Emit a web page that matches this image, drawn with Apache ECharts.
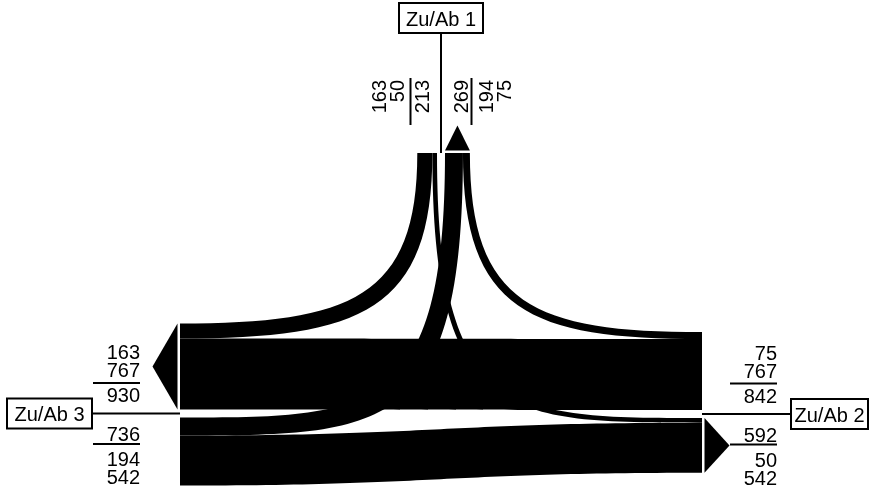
<!DOCTYPE html>
<html>
<head>
    <meta charset="utf-8">
    <title>Knotenstrom</title>
    <script src="https://cdn.jsdelivr.net/npm/echarts@6/dist/echarts.min.js"></script>
    <style>
        html, body { margin: 0; padding: 0; background: #fff; }
    </style>
</head>
<body>
    <div id="main" style="width: 870px;height:489px;"></div>
    <script type="text/javascript">
        // Knotenarme und Verkehrsströme (Fz)
        const armNames = ['Zu/Ab 1', 'Zu/Ab 2', 'Zu/Ab 3'];
        const fromArm = [1, 1, 2, 2, 3, 3];
        const toArm = [2, 3, 3, 1, 1, 2];
        const volume = [50, 163, 767, 75, 194, 542];

        // Reihenfolge der Ströme vom Achsstrich nach außen
        const inOrder = { 1: [2, 3], 2: [3, 1], 3: [1, 2] };
        const outOrder = { 1: [3, 2], 2: [1, 3], 3: [2, 1] };

        // Lage der Arme im Achsensystem
        const armEnd = { 1: [441, 153], 2: [702, 414], 3: [180, 413.5] };
        const armOut = { 1: [0, -1], 2: [1, 0], 3: [-1, 0] };
        const armInSide = { 1: [-1, 0], 2: [0, -1], 3: [0, 1] };
        const armLine = { 1: 120, 2: 89, 3: 88 };
        const armBox = { 1: [135, 84], 2: [127.5, 77], 3: [130.5, 85] };
        const armLabel = {
            1: { at: 73, from: 28, to: 75 },
            2: { at: 75, from: 28, to: 75 },
            3: { at: 40, from: 40, to: 87 }
        };

        const UNIT = 0.0925;   // Breite je Fahrzeug
        const GAP = 4;
        const FONT = 'Liberation Sans, Arial, sans-serif';

        function vol(a, b) {
            for (let i = 0; i < volume.length; i++) {
                if (fromArm[i] === a && toArm[i] === b) return volume[i];
            }
            return 0;
        }
        const add = (p, d, k) => [p[0] + d[0] * k, p[1] + d[1] * k];
        const neg = (d) => [-d[0], -d[1]];

        // Anschlussstellen der Bänder an den Armen
        const slots = {};
        [1, 2, 3].forEach(function (a) {
            let off = GAP;
            inOrder[a].forEach(function (b) {
                const w = vol(a, b) * UNIT;
                const key = a + '-' + b;
                slots[key] = slots[key] || {};
                slots[key].start = [add(armEnd[a], armInSide[a], off), add(armEnd[a], armInSide[a], off + w)];
                off += w;
            });
            off = GAP;
            const side = neg(armInSide[a]);
            outOrder[a].forEach(function (o) {
                const w = vol(o, a) * UNIT;
                const key = o + '-' + a;
                slots[key] = slots[key] || {};
                slots[key].end = [add(armEnd[a], side, off), add(armEnd[a], side, off + w)];
                off += w;
            });
        });

        function edge(P0, P3, d0, d3) {
            const dx = P3[0] - P0[0], dy = P3[1] - P0[1];
            const straight = (d0[0] * d3[0] + d0[1] * d3[1]) > 0.5;
            // Rechtsabbieger etwas runder als Linksabbieger
            const rightTurn = (d0[0] * d3[1] - d0[1] * d3[0]) > 0;
            const len = function (d) {
                if (straight) return 0.5 * Math.abs(dx * d[0] + dy * d[1]);
                if (d[0] !== 0) return 0.72 * Math.abs(dx);
                return (rightTurn ? 0.85 : 1) * Math.abs(dy);
            };
            return [P0, add(P0, d0, len(d0)), add(P3, d3, -len(d3)), P3];
        }

        function renderItem(params, api) {
            const c = (p) => api.coord(p);
            const children = [];

            // Bänder
            for (let i = 0; i < volume.length; i++) {
                const a = fromArm[i], b = toArm[i];
                const s = slots[a + '-' + b];
                const d0 = neg(armOut[a]), d3 = armOut[b];
                const e1 = edge(s.start[0], s.end[0], d0, d3).map(c);
                const e2 = edge(s.start[1], s.end[1], d0, d3).map(c);
                const path = 'M' + e1[0] + 'C' + e1[1] + ' ' + e1[2] + ' ' + e1[3] +
                    'L' + e2[3] + 'C' + e2[2] + ' ' + e2[1] + ' ' + e2[0] + 'Z';
                children.push({ type: 'path', shape: { pathData: path }, style: { fill: '#000' } });
            }

            [1, 2, 3].forEach(function (a) {
                const end = armEnd[a], out = armOut[a], inSide = armInSide[a];
                const outSide = neg(inSide);
                const ins = inOrder[a].map(function (b) { return vol(a, b); });
                const outs = outOrder[a].map(function (o) { return vol(o, a); });
                const inSum = ins.reduce((x, y) => x + y, 0);
                const outSum = outs.reduce((x, y) => x + y, 0);

                // Pfeil für abfließenden Verkehr
                const p1 = add(end, outSide, GAP), p2 = add(end, outSide, GAP + outSum * UNIT);
                const mid = [(p1[0] + p2[0]) / 2, (p1[1] + p2[1]) / 2];
                children.push({
                    type: 'polygon',
                    shape: { points: [add(p1, out, 2.5), add(p2, out, 2.5), add(mid, out, 27.5)].map(c) },
                    style: { fill: '#000' }
                });

                // Achsstrich
                const l1 = c(end), l2 = c(add(end, out, armLine[a]));
                children.push({
                    type: 'line',
                    shape: { x1: l1[0], y1: l1[1], x2: l2[0], y2: l2[1] },
                    style: { stroke: '#000', lineWidth: 2 }
                });

                // Beschriftung
                const cfg = armLabel[a];
                const rot = a === 1 ? Math.PI / 2 : 0;
                const nudge = a === 1 ? [2, 0] : [0, 2.5];
                [[inSide, ins, inSum], [outSide, outs, outSum]].forEach(function (blk) {
                    const side = blk[0];
                    const texts = [[19.5, blk[2]]];
                    blk[1].forEach(function (v, k) { texts.push([44.5 + 18 * k, v]); });
                    texts.forEach(function (t) {
                        const p = c(add(add(end, out, cfg.at), side, t[0]));
                        children.push({
                            type: 'text', x: p[0] + nudge[0], y: p[1] + nudge[1], rotation: rot,
                            style: {
                                text: String(t[1]), fontFamily: FONT, fontSize: 20,
                                align: 'right', verticalAlign: 'middle', fill: '#000'
                            }
                        });
                    });
                    const q1 = c(add(add(end, out, cfg.from), side, 30.5));
                    const q2 = c(add(add(end, out, cfg.to), side, 30.5));
                    children.push({
                        type: 'line',
                        shape: { x1: q1[0], y1: q1[1], x2: q2[0], y2: q2[1] },
                        style: { stroke: '#000', lineWidth: 2 }
                    });
                });

                // Kasten mit Armbezeichnung
                const bc = c(add(end, out, armBox[a][0]));
                const bw = armBox[a][1], bh = 30;
                children.push({
                    type: 'rect',
                    shape: { x: bc[0] - bw / 2, y: bc[1] - bh / 2, width: bw, height: bh },
                    style: { fill: '#fff', stroke: '#000', lineWidth: 2 }
                });
                children.push({
                    type: 'text', x: bc[0], y: bc[1] + 2,
                    style: {
                        text: armNames[a - 1], fontFamily: FONT, fontSize: 20,
                        align: 'center', verticalAlign: 'middle', fill: '#000'
                    }
                });
            });

            return { type: 'group', children: children };
        }

        let myChart = echarts.init(document.getElementById('main'));
        let option = {
            animation: false,
            grid: { left: 0, right: 0, top: 0, bottom: 0 },
            xAxis: { type: 'value', min: 0, max: 870, show: false },
            yAxis: { type: 'value', min: 0, max: 489, inverse: true, show: false },
            series: [{
                type: 'custom',
                renderItem: renderItem,
                clip: false,
                data: [[0, 0]]
            }]
        };
        myChart.setOption(option);
    </script>
</body>
</html>
